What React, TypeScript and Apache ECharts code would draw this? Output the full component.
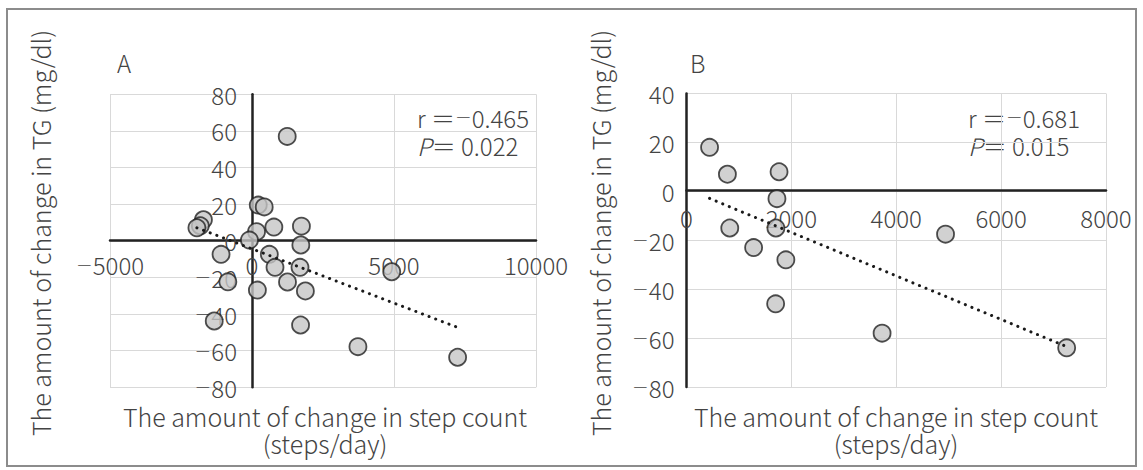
import React, { useEffect, useRef } from "react";
import * as echarts from "echarts";

// Panel A: all subjects
const stepsA = [1240, 220, 430, -1710, -1820, -1940, 770, 1740, 160, -90, 1720, -1090, 610, 810, 1690, -850, 1250, 1880, 190, -1330, 1710, 3730, 7240, 4920];
const tgA = [57, 19.5, 18.5, 11.5, 8.2, 7.1, 7.5, 8, 5, 0.4, -2.3, -7.4, -7.4, -14.5, -14.5, -22.4, -22.5, -27.4, -26.9, -43.8, -46, -57.8, -63.6, -16.9];
// Panel B: subset
const stepsB = [440, 780, 1765, 1725, 1705, 825, 1280, 1895, 1700, 4940, 3730, 7250];
const tgB = [18, 7, 8, -3, -15, -15, -23, -28, -46, -17.5, -58, -64];
// Trend lines (end points)
const trendAx = [-1940, 7240];
const trendAy = [7.1, -47.3];
const trendBx = [440, 7250];
const trendBy = [-2.9, -63.5];
const statsA = ["0.465", "0.022"];
const statsB = ["0.681", "0.015"];
const xTitle = "The amount of change in step count\n(steps/day)";
const yTitle = "The amount of change in TG (mg/dl)";

const FONT = "'Noto Sans CJK JP', 'Noto Sans', sans-serif";
const MFONT = "'DejaVu Sans', sans-serif";
const TXT = "#444444";

const fmt = (v: number) => (v < 0 ? "{m|\u2212}" + Math.abs(v) : String(v));

export default function App() {
  const ref = useRef<HTMLDivElement>(null);
  useEffect(() => {
    if (!ref.current) return;
    const chart = echarts.init(ref.current, undefined, { renderer: "svg" });
    const axisLabel = (margin: number) => ({
      fontSize: 24,
      fontFamily: FONT,
      fontWeight: 300 as any,
      color: TXT,
      margin,
      formatter: fmt,
      rich: { m: { fontFamily: MFONT, fontSize: 20, fontWeight: 300, color: TXT } },
    });
    const split = { show: true, lineStyle: { color: "#d9d9d9", width: 1 } };
    const axLine = { show: true, onZero: false, lineStyle: { color: "#222222", width: 2.5 } };
    const pts = (xs: number[], ys: number[]) => xs.map((x, i) => [x, ys[i]]);
    const scatterStyle = { color: "#c6c6c6", borderColor: "#222222", borderWidth: 1.8 };
    const trendStyle = { color: "#1a1a1a", width: 3, type: [0.1, 7] as any, cap: "round" as any };

    const textBase = { fontSize: 24, fontFamily: FONT, fontWeight: 300, fill: TXT };
    const richBase = { fontSize: 24, fontFamily: FONT, fontWeight: 300, fill: TXT, color: TXT, lineHeight: 28 };
    const stat = (x: number, s: string[]) => ({
      type: "text",
      x,
      y: 103,
      style: {
        ...textBase,
        lineHeight: 28,
        text: "{n|r \uFF1D}{m|\u2212}{n|" + s[0] + "}\n{i|P}{n|\uFF1D " + s[1] + "}",
        rich: {
          n: { ...richBase },
          i: { ...richBase, fontStyle: "italic" },
          m: { ...richBase, fontFamily: MFONT, fontSize: 20 },
        },
      },
    });
    const xT = (x: number) => ({
      type: "text",
      x,
      y: 403,
      style: { ...textBase, fontSize: 25, text: xTitle, align: "center", textAlign: "center", lineHeight: 26.5 },
    });
    const yT = (x: number) => ({
      type: "text",
      x,
      y: 233,
      rotation: Math.PI / 2,
      style: { ...textBase, fontSize: 25, text: yTitle, align: "center", textAlign: "center", verticalAlign: "middle", textVerticalAlign: "middle" },
    });

    chart.setOption({
      animation: false,
      grid: [
        { left: 110, top: 94.3, width: 426, height: 293 },
        { left: 686.5, top: 93.5, width: 419.5, height: 293.5 },
      ],
      xAxis: [
        { type: "value", gridIndex: 0, position: "bottom", offset: -146.6, min: -5000, max: 10000, interval: 5000, axisLine: axLine, axisTick: { show: false }, splitLine: split, axisLabel: axisLabel(12) },
        { type: "value", gridIndex: 1, position: "bottom", offset: -196.3, min: 0, max: 8000, interval: 2000, axisLine: axLine, axisTick: { show: false }, splitLine: split, axisLabel: axisLabel(15) },
      ],
      yAxis: [
        { type: "value", gridIndex: 0, position: "left", offset: -142, min: -80, max: 80, interval: 20, axisLine: axLine, axisTick: { show: false }, splitLine: split, axisLabel: axisLabel(15) },
        { type: "value", gridIndex: 1, position: "left", min: -80, max: 40, interval: 20, axisLine: axLine, axisTick: { show: false }, splitLine: split, axisLabel: axisLabel(12) },
      ],
      series: [
        { type: "scatter", xAxisIndex: 0, yAxisIndex: 0, data: pts(stepsA, tgA), symbolSize: 17, itemStyle: scatterStyle, z: 3 },
        { type: "scatter", xAxisIndex: 1, yAxisIndex: 1, data: pts(stepsB, tgB), symbolSize: 17, itemStyle: scatterStyle, z: 3 },
        { type: "line", xAxisIndex: 0, yAxisIndex: 0, data: pts(trendAx, trendAy), showSymbol: false, symbol: "none", lineStyle: trendStyle, z: 5 },
        { type: "line", xAxisIndex: 1, yAxisIndex: 1, data: pts(trendBx, trendBy), showSymbol: false, symbol: "none", lineStyle: trendStyle, z: 5 },
      ],
      graphic: [
        { type: "rect", shape: { x: 7, y: 9, width: 1129, height: 457 }, style: { fill: "none", stroke: "#8c8c8c", lineWidth: 2 }, silent: true },
        { type: "text", x: 117, y: 62, style: { ...textBase, text: "A", verticalAlign: "middle", textVerticalAlign: "middle" } },
        { type: "text", x: 690, y: 62, style: { ...textBase, text: "B", verticalAlign: "middle", textVerticalAlign: "middle" } },
        stat(417, statsA),
        stat(968, statsB),
        xT(325),
        xT(896),
        yT(40),
        yT(600),
      ],
    });
    return () => chart.dispose();
  }, []);
  return <div ref={ref} style={{ position: "fixed", left: 0, top: 0, width: 1143, height: 470, background: "#fff" }} />;
}
